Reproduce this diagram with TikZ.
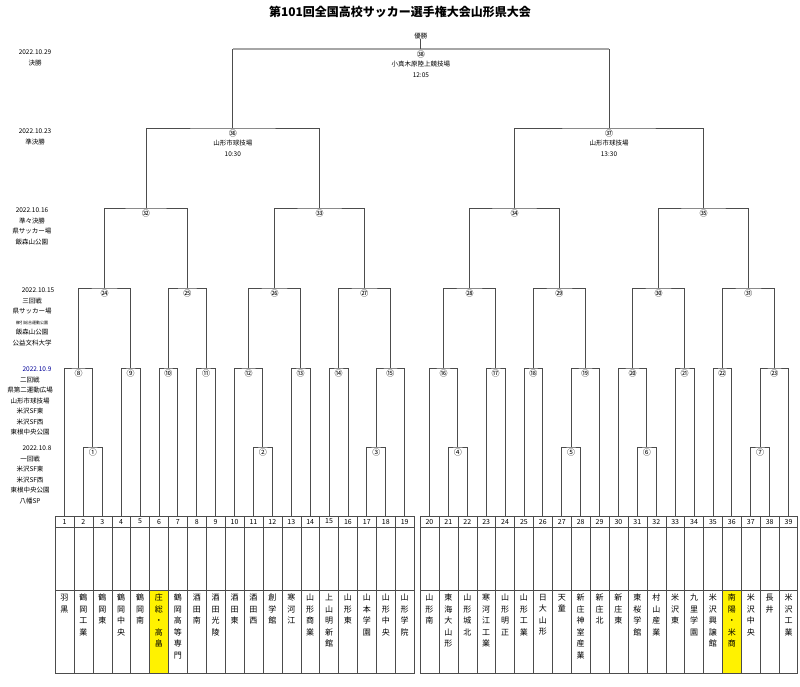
\documentclass[tikz,border=0pt]{standalone}
\usepackage{fontspec}
\setmainfont{Noto Sans CJK JP}
\usetikzlibrary{calc}
\begin{document}
\begin{tikzpicture}[x=1pt,y=-1pt,
  br/.style={draw=black!70,line width=0.9pt},
  cn/.style={font=\fontsize{8}{8}\selectfont,inner sep=0.3pt,anchor=north},
  lab/.style={font=\fontsize{6.5}{10.5}\selectfont,align=center,anchor=north,inner sep=0},
  tn/.style={font=\fontsize{7}{8}\selectfont,inner sep=0},
  nm/.style={font=\fontsize{8}{11.5}\selectfont,align=center,anchor=north,inner sep=0}]
\useasboundingbox (0,0) rectangle (800,687);
\fill[white] (0,0) rectangle (800,687);
\node[font=\bfseries\fontsize{12}{14}\selectfont] (title) at (400,12) {第101回全国高校サッカー選手権大会山形県大会};
% levels
\coordinate (L1) at (0,447);\coordinate (L2) at (0,368);\coordinate (L3) at (0,288);
\coordinate (L4) at (0,208);\coordinate (L5) at (0,128);\coordinate (L6) at (0,49);
% team boxes
\fill[yellow] (55+5*18.9,590) rectangle (55+6*18.9,673);
\fill[yellow] (420+16*18.9,590) rectangle (420+17*18.9,673);
\draw[black!70] (55,516) rectangle (414,673) (55,527) -- (414,527) (55,590) -- (414,590);
\draw[black!70] (420,516) rectangle (797,673) (420,527) -- (797,527) (420,590) -- (797,590);
\foreach \i in {1,...,18}{\draw[black!70] (55+\i*18.9,516) -- (55+\i*18.9,673);}
\foreach \i in {1,...,19}{\draw[black!70] (420+\i*18.9,516) -- (420+\i*18.9,673);}
\foreach \i/\n in {1/{羽\\黒},2/{鶴\\岡\\工\\業},3/{鶴\\岡\\東},4/{鶴\\岡\\中\\央},5/{鶴\\岡\\南},6/{庄\\総\\・\\高\\畠},7/{鶴\\岡\\高\\等\\専\\門},8/{酒\\田\\南},9/{酒\\田\\光\\陵},10/{酒\\田\\東},11/{酒\\田\\西},12/{創\\学\\館},13/{寒\\河\\江},14/{山\\形\\商\\業},15/{上\\山\\明\\新\\館},16/{山\\形\\東},17/{山\\本\\学\\園},18/{山\\形\\中\\央},19/{山\\形\\学\\院}}{
  \coordinate (t\i) at (55+\i*18.9-9.45,516);
  \node[tn] (n\i) at (55+\i*18.9-9.45,521.5) {\i};
  \node[nm] (s\i) at (55+\i*18.9-9.45,594) {\n};}
\foreach \i/\n in {20/{山\\形\\南},21/{東\\海\\大\\山\\形},22/{山\\形\\城\\北},23/{寒\\河\\江\\工\\業},24/{山\\形\\明\\正},25/{山\\形\\工\\業},26/{日\\大\\山\\形},27/{天\\童},28/{新\\庄\\神\\室\\産\\業},29/{新\\庄\\北},30/{新\\庄\\東},31/{東\\桜\\学\\館},32/{村\\山\\産\\業},33/{米\\沢\\東},34/{九\\里\\学\\園},35/{米\\沢\\興\\譲\\館},36/{南\\陽\\・\\米\\商},37/{米\\沢\\中\\央},38/{長\\井},39/{米\\沢\\工\\業}}{
  \coordinate (t\i) at (420+\i*18.9-19*18.9-9.45,516);
  \node[tn] (n\i) at (420+\i*18.9-19*18.9-9.45,521.5) {\i};
  \node[nm] (s\i) at (420+\i*18.9-19*18.9-9.45,594) {\n};}
% matches
\foreach \m/\a/\b/\l/\c in {
 1/t2/t3/L1/①,2/t11/t12/L1/②,3/t17/t18/L1/③,4/t21/t22/L1/④,5/t27/t28/L1/⑤,6/t31/t32/L1/⑥,7/t37/t38/L1/⑦,
 8/t1/m1/L2/⑧,9/t4/t5/L2/⑨,10/t6/t7/L2/⑩,11/t8/t9/L2/⑪,12/t10/m2/L2/⑫,13/t13/t14/L2/⑬,14/t15/t16/L2/⑭,15/m3/t19/L2/⑮,
 16/t20/m4/L2/⑯,17/t23/t24/L2/⑰,18/t25/t26/L2/⑱,19/m5/t29/L2/⑲,20/t30/m6/L2/⑳,21/t33/t34/L2/㉑,22/t35/t36/L2/㉒,23/m7/t39/L2/㉓,
 24/m8/m9/L3/㉔,25/m10/m11/L3/㉕,26/m12/m13/L3/㉖,27/m14/m15/L3/㉗,28/m16/m17/L3/㉘,29/m18/m19/L3/㉙,30/m20/m21/L3/㉚,31/m22/m23/L3/㉛,
 32/m24/m25/L4/㉜,33/m26/m27/L4/㉝,34/m28/m29/L4/㉞,35/m30/m31/L4/㉟,
 36/m32/m33/L5/㊱,37/m34/m35/L5/㊲,38/m36/m37/L6/㊳}{
  \coordinate (tmp) at ($(\a)!0.5!(\b)$);
  \coordinate (m\m) at (tmp |- \l);
  \draw[br] (\a) |- (m\m) -| (\b);
  \node[cn] (c\m) at ($(m\m)+(0,1.5)$) {\c};}
\draw[draw=black!35,line width=2pt] (m36 |- L6) -- (m37 |- L6);
\node[font=\fontsize{6.5}{7}\selectfont,inner sep=0] (win) at ($(m38)+(0,-13)$) {優勝};
\draw[br] (win.south) -- (m38);
\node[lab] (v38) at ($(m38)+(0,12)$) {小真木原陸上競技場\\12:05};
\node[lab] (v36) at ($(m36)+(0,12)$) {山形市球技場\\10:30};
\node[lab] (v37) at ($(m37)+(0,12)$) {山形市球技場\\13:30};
% left labels
\node[lab] (d1) at (35,50) {2022.10.29\\決勝};
\node[lab] (d2) at (35,129) {2022.10.23\\準決勝};
\node[lab] (d3) at (32,208) {2022.10.16\\準々決勝\\県サッカー場\\飯森山公園};
\node[lab] (d4) at (32,288) {\hspace*{12pt}2022.10.15\\三回戦\\県サッカー場\\{\fontsize{4}{5}\selectfont 櫛引総合運動公園}\\飯森山公園\\公益文科大学};
\node[lab] (d5) at (30,367) {\textcolor{blue!60!black}{\hspace*{14pt}2022.10.9}\\二回戦\\県第二運動広場\\山形市球技場\\米沢SF東\\米沢SF西\\東根中央公園};
\node[lab] (d6) at (30,446) {\hspace*{14pt}2022.10.8\\一回戦\\米沢SF東\\米沢SF西\\東根中央公園\\八幡SP};
\end{tikzpicture}
\end{document}
